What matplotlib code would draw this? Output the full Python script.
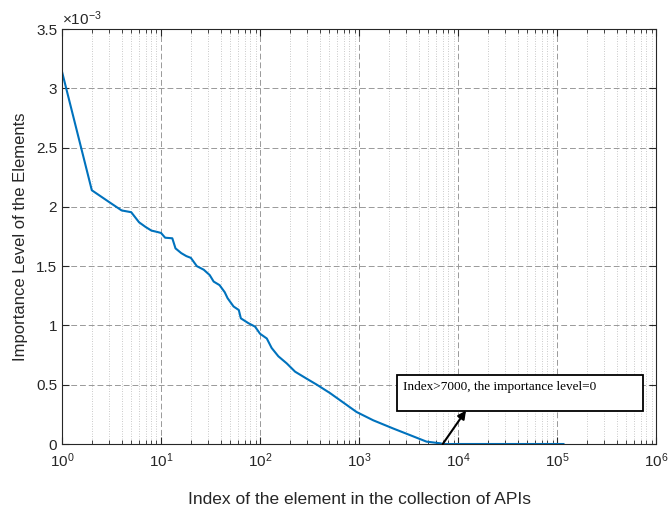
"""
Importance level of API elements versus their index (log x axis)
"""

import numpy as np
import matplotlib.pyplot as plt
from matplotlib.ticker import FuncFormatter, LogLocator, NullFormatter
from matplotlib.patches import Rectangle

plt.rcParams['font.family'] = ['Liberation Sans', 'DejaVu Sans']
plt.rcParams['mathtext.fontset'] = 'custom'
plt.rcParams['mathtext.rm'] = 'Liberation Sans'
plt.rcParams['mathtext.it'] = 'Liberation Sans:italic'

# values, importance in units of 1e-3
element_index = [1, 2, 3, 4, 5, 6, 7, 8, 9, 10, 11, 13, 14, 16, 18, 20, 23,
                 27, 31, 34, 39, 44, 47, 54, 61, 64, 76, 89, 100, 117, 131,
                 153, 186, 226, 297, 375, 508, 944, 1390, 2225, 3250, 4800,
                 6600, 7000, 116000]
importance_e3 = [3.14, 2.14, 2.04, 1.97, 1.955, 1.87, 1.83, 1.80, 1.79, 1.78,
                 1.74, 1.735, 1.65, 1.61, 1.585, 1.57, 1.50, 1.47, 1.425,
                 1.37, 1.34, 1.28, 1.23, 1.16, 1.13, 1.06, 1.02, 0.99, 0.93,
                 0.89, 0.81, 0.74, 0.68, 0.61, 0.55, 0.50, 0.43, 0.27, 0.20,
                 0.13, 0.076, 0.02, 0.006, 0.0, 0.0]
y_ticks_e3 = [0, 0.5, 1, 1.5, 2, 2.5, 3, 3.5]
note_text = 'Index>7000, the importance level=0'

SCALE = 1e-3
GRAY = (0.15, 0.15, 0.15)

fig = plt.figure(figsize=(6.69, 5.11), dpi=100)
ax = fig.add_axes([0.0927, 0.1311, 0.888, 0.8121])

x = np.array(element_index)
y = np.array(importance_e3) * SCALE
ax.plot(x, y, color='#0072BD', linewidth=1.5)

ax.set_xscale('log')
ax.set_xlim(1, 1e6)
ax.set_ylim(0, 3.5e-3)
ax.set_yticks(np.array(y_ticks_e3) * SCALE)
ax.yaxis.set_major_formatter(FuncFormatter(lambda v, p: f'{v / SCALE:g}'))
ax.xaxis.set_major_locator(LogLocator(base=10, numticks=10))
ax.xaxis.set_minor_locator(LogLocator(base=10, subs=np.arange(2, 10), numticks=20))
ax.xaxis.set_minor_formatter(NullFormatter())

ax.grid(True, which='major', linestyle=(0, (6, 3)), color=(0.6, 0.6, 0.6),
        linewidth=0.7)
ax.grid(True, which='minor', axis='x', linestyle=(0, (1, 2)),
        color=(0.72, 0.72, 0.72), linewidth=0.6)
ax.set_axisbelow(True)

ax.tick_params(which='both', direction='in', top=True, right=True,
               colors=GRAY, labelsize=11)
ax.tick_params(which='major', length=5, width=0.8)
ax.tick_params(which='minor', length=3, width=0.6)
ax.tick_params(axis='x', pad=5)
for side in ax.spines.values():
    side.set_color(GRAY)
    side.set_linewidth(0.8)

ax.text(0.0, 1.003, r'$\times10^{-3}$', transform=ax.transAxes,
        ha='left', va='bottom', fontsize=11, color=GRAY)

ax.set_xlabel('Index of the element in the collection of APIs', fontsize=12.5,
              color=GRAY, labelpad=16)
ax.set_ylabel('Importance Level of the Elements', fontsize=12, color=GRAY,
              labelpad=6)

# annotation box with arrow
box = Rectangle((0.564, 0.0807), 0.414, 0.0853, transform=ax.transAxes,
                facecolor='white', edgecolor='black', linewidth=1.3, zorder=5)
ax.add_patch(box)
ax.text(0.574, 0.138, note_text, transform=ax.transAxes, ha='left',
        va='center', fontsize=9.5, family=['Liberation Serif', 'DejaVu Serif'],
        zorder=6)
ax.annotate('', xy=(0.68, 0.0807), xycoords='axes fraction',
            xytext=(7000, 0), textcoords='data',
            arrowprops=dict(arrowstyle='-|>', color='black', lw=1.5,
                            mutation_scale=12, shrinkA=0, shrinkB=0),
            zorder=6)

plt.savefig('out.png', dpi=100)
plt.close()
